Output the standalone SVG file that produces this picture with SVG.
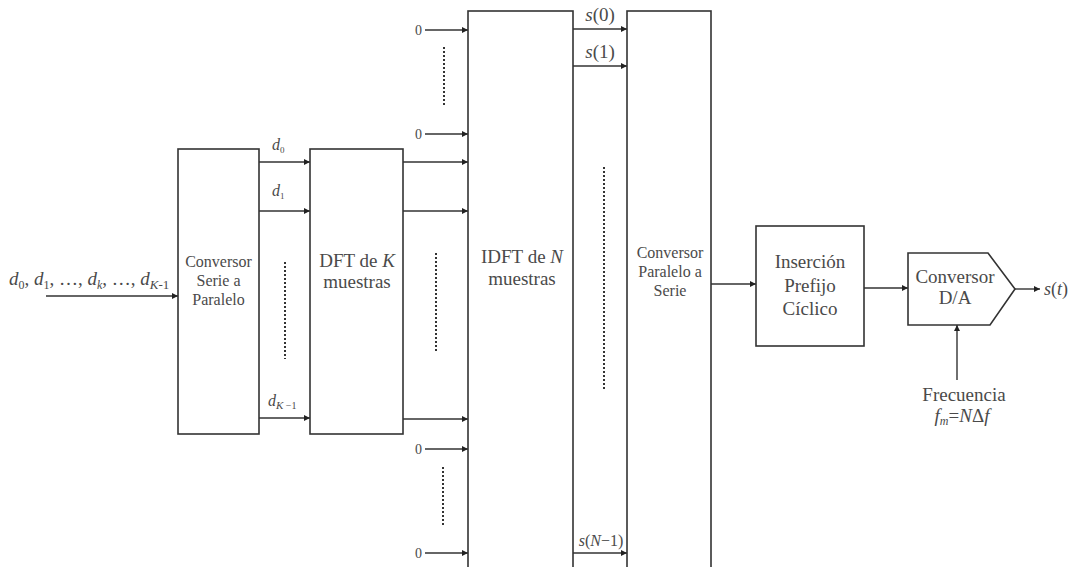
<svg xmlns="http://www.w3.org/2000/svg" width="1071" height="567" viewBox="0 0 1071 567" font-family="'Liberation Serif', 'Times New Roman', serif">
<style>
.box{fill:#fff;stroke:#333;stroke-width:1.6}
.ln{fill:none;stroke:#333;stroke-width:1.4;marker-end:url(#ah)}
.dot{fill:none;stroke:#333;stroke-width:2;stroke-dasharray:2,2}
text{font-family:"Liberation Serif","Times New Roman",serif;fill:#4a4a4a}
.m{font-size:19px;text-anchor:middle}
.s{font-size:16px;text-anchor:middle}
.i{font-style:italic}
.z{font-size:14px;text-anchor:end}
</style>
<defs>
<marker id="ah" viewBox="0 0 10 10" refX="10" refY="5" markerWidth="8" markerHeight="6" markerUnits="userSpaceOnUse" orient="auto">
<path d="M0,0 L10,5 L0,10 z" fill="#222"/>
</marker>
</defs>
<rect width="1071" height="567" fill="#fff"/>

<g id="connectors">
<line class="ln" x1="46" y1="296" x2="178" y2="296"/>
<line class="ln" x1="259" y1="162" x2="310" y2="162"/>
<line class="ln" x1="259" y1="211" x2="310" y2="211"/>
<line class="ln" x1="259" y1="418" x2="310" y2="418"/>
<line class="dot" x1="285" y1="262" x2="285" y2="359"/>
<line class="ln" x1="403" y1="162" x2="468" y2="162"/>
<line class="ln" x1="403" y1="211" x2="468" y2="211"/>
<line class="ln" x1="403" y1="419" x2="468" y2="419"/>
<line class="dot" x1="436" y1="253" x2="436" y2="351"/>
<line class="ln" x1="425" y1="30" x2="468" y2="30"/>
<line class="ln" x1="425" y1="134" x2="468" y2="134"/>
<line class="dot" x1="444" y1="47" x2="444" y2="107"/>
<line class="ln" x1="425" y1="449" x2="468" y2="449"/>
<line class="ln" x1="425" y1="553" x2="468" y2="553"/>
<line class="dot" x1="443" y1="467" x2="443" y2="526"/>
<line class="ln" x1="573" y1="29" x2="627" y2="29"/>
<line class="ln" x1="573" y1="66" x2="627" y2="66"/>
<line class="ln" x1="573" y1="553" x2="627" y2="553"/>
<line class="dot" x1="604" y1="167" x2="604" y2="390"/>
<line class="ln" x1="711" y1="284" x2="756" y2="284"/>
<line class="ln" x1="864" y1="288" x2="908" y2="288"/>
<line class="ln" x1="1015" y1="289" x2="1040" y2="289"/>
<line class="ln" x1="957" y1="380" x2="957" y2="325"/>
</g>

<g id="input-label">
<text x="9" y="285" style="font-size:19px"><tspan class="i">d</tspan><tspan style="font-size:12px" dy="4">0</tspan><tspan dy="-4">, </tspan><tspan class="i">d</tspan><tspan style="font-size:12px" dy="4">1</tspan><tspan dy="-4">,  …, </tspan><tspan class="i">d</tspan><tspan class="i" style="font-size:12px" dy="4">k</tspan><tspan dy="-4">, …, </tspan><tspan class="i">d</tspan><tspan class="i" style="font-size:13px" dy="4">K</tspan><tspan style="font-size:13px">-1</tspan></text>
</g>

<g id="sp">
<rect class="box" x="178" y="149" width="81" height="285"/>
<text class="s" x="218.5" y="267">Conversor</text>
<text class="s" x="218.5" y="286">Serie a</text>
<text class="s" x="218.5" y="305">Paralelo</text>
</g>

<g id="labels-d">
<text x="272" y="150" style="font-size:16px"><tspan class="i">d</tspan><tspan style="font-size:9px" dy="3">0</tspan></text>
<text x="272" y="196" style="font-size:16px"><tspan class="i">d</tspan><tspan style="font-size:9px" dy="3">1</tspan></text>
<text x="268" y="406" style="font-size:16px"><tspan class="i">d</tspan><tspan class="i" style="font-size:11px" dy="3">K</tspan><tspan style="font-size:10px"> −1</tspan></text>
</g>

<g id="dft">
<rect class="box" x="310" y="149" width="93" height="285"/>
<text class="m" x="357" y="267">DFT de <tspan class="i">K</tspan></text>
<text class="m" x="357" y="288">muestras</text>
</g>

<g id="zeros">
<text class="z" x="422" y="35">0</text>
<text class="z" x="422" y="139">0</text>
<text class="z" x="422" y="454">0</text>
<text class="z" x="422" y="558">0</text>
</g>

<g id="idft">
<rect class="box" x="468" y="11" width="105" height="570"/>
<text class="m" x="522" y="263">IDFT de <tspan class="i">N</tspan></text>
<text class="m" x="522" y="285">muestras</text>
</g>

<g id="labels-s">
<text x="600" y="21" style="font-size:19px;text-anchor:middle"><tspan class="i">s</tspan>(0)</text>
<text x="600" y="58" style="font-size:19px;text-anchor:middle"><tspan class="i">s</tspan>(1)</text>
<text x="601" y="546" style="font-size:16px;text-anchor:middle"><tspan class="i">s</tspan>(<tspan class="i">N</tspan>−1)</text>
</g>

<g id="ps">
<rect class="box" x="627" y="11" width="84" height="570"/>
<text class="s" x="670" y="258">Conversor</text>
<text class="s" x="670" y="277">Paralelo a</text>
<text class="s" x="670" y="296">Serie</text>
</g>

<g id="cp">
<rect class="box" x="756" y="226" width="108" height="120"/>
<text class="m" x="810" y="268">Inserción</text>
<text class="m" x="810" y="292">Prefijo</text>
<text class="m" x="810" y="315">Cíclico</text>
</g>

<g id="da">
<path class="box" d="M908,253 L988,253 L1015,289 L990,325 L908,325 Z"/>
<text class="m" x="955" y="283">Conversor</text>
<text class="m" x="955" y="304">D/A</text>
</g>

<g id="out">
<text x="1044" y="295" style="font-size:18px"><tspan class="i">s</tspan>(<tspan class="i">t</tspan>)</text>
</g>

<g id="freq">
<text class="m" x="964" y="401">Frecuencia</text>
<text class="m" x="962" y="422"><tspan class="i">f</tspan><tspan class="i" style="font-size:12px" dy="3">m</tspan><tspan dy="-3">=</tspan><tspan class="i">N</tspan>Δ<tspan class="i">f</tspan></text>
</g>
</svg>
